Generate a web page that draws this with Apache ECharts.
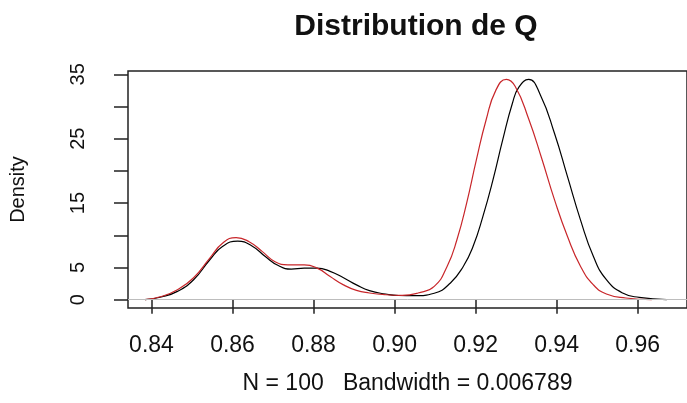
<!DOCTYPE html>
<html>
<head>
<meta charset="utf-8">
<script src="https://cdn.jsdelivr.net/npm/echarts@6/dist/echarts.min.js"></script>
<style>
  html, body { margin: 0; padding: 0; background: #ffffff; }
  #chart { width: 687px; height: 403px; }
</style>
</head>
<body>
<div id="chart"></div>
<script>
// Kernel density estimate of Q (black) and the second estimate (red)
var xBlack = [0.8384, 0.8424, 0.8464, 0.8504, 0.8544, 0.8576, 0.8613, 0.8649, 0.8681, 0.8713,
              0.8745, 0.8777, 0.8809, 0.8841, 0.8874, 0.8906, 0.8938, 0.8978, 0.9010, 0.9050,
              0.9098, 0.9138, 0.9170, 0.9194, 0.9218, 0.9243, 0.9267, 0.9291, 0.9307, 0.9331,
              0.9360, 0.9395, 0.9427, 0.9459, 0.9491, 0.9523, 0.9563, 0.9604, 0.9672];
var yBlack = [0.0, 0.42, 1.29, 3.1, 6.2, 8.3, 9.1, 8.3, 6.7, 5.3,
              4.75, 4.9, 4.9, 4.4, 3.4, 2.3, 1.4, 0.88, 0.65, 0.62,
              1.0, 2.6, 5.2, 8.3, 12.9, 18.6, 24.8, 30.5, 33.0, 34.2,
              31.8, 25.8, 19.1, 12.4, 6.7, 3.1, 1.04, 0.36, 0.02];

var xRed = [0.8384, 0.8424, 0.8464, 0.8504, 0.8544, 0.8576, 0.8609, 0.8641, 0.8673, 0.8705,
            0.8737, 0.8777, 0.8809, 0.8841, 0.8874, 0.8906, 0.8938, 0.8978, 0.9019, 0.9058,
            0.9098, 0.9130, 0.9154, 0.9178, 0.9202, 0.9226, 0.9250, 0.9276, 0.9298, 0.9331,
            0.9363, 0.9395, 0.9427, 0.9459, 0.9491, 0.9523, 0.9571, 0.9635];
var yRed = [0.0, 0.5, 1.55, 3.4, 6.45, 8.8, 9.65, 9.0, 7.5, 5.9,
            5.4, 5.4, 4.9, 3.6, 2.3, 1.44, 1.04, 0.77, 0.68, 1.04,
            2.06, 5.2, 9.3, 15.0, 21.7, 27.9, 32.5, 34.2, 33.1, 28.1,
            22.0, 15.5, 9.8, 5.2, 2.3, 0.88, 0.26, 0.02];

var xTicks = [0.84, 0.86, 0.88, 0.90, 0.92, 0.94, 0.96];
var yTicks = [0, 5, 10, 15, 20, 25, 30, 35];
var yTickLabels = [0, 5, 15, 25, 35];

var titleText = 'Distribution de Q';
var xLabel = 'N = 100   Bandwidth = 0.006789';
var yLabel = 'Density';

function pairs(xs, ys) {
  return xs.map(function (x, i) { return [x, ys[i]]; });
}

var font = 'Liberation Sans, Arial, sans-serif';
var chart = echarts.init(document.getElementById('chart'), null, { renderer: 'canvas' });

chart.setOption({
  backgroundColor: '#ffffff',
  animation: false,
  title: {
    text: titleText,
    left: 411,
    textAlign: 'center',
    top: 7,
    textStyle: { fontFamily: font, fontSize: 30, fontWeight: 'bold', color: '#111' }
  },
  grid: {
    left: 126, right: -12, top: 71, bottom: 95,
    show: true, borderColor: '#222', borderWidth: 1.5, backgroundColor: 'transparent'
  },
  xAxis: {
    type: 'value',
    min: 0.8342, max: 0.9722,
    name: xLabel,
    nameLocation: 'middle',
    nameGap: 64,
    nameTextStyle: { fontFamily: font, fontSize: 23, color: '#111' },
    axisLine: { show: false },
    axisTick: { show: true, inside: false, length: 14, customValues: xTicks,
                lineStyle: { color: '#222', width: 1.5 } },
    axisLabel: { customValues: xTicks, margin: 26, fontFamily: font, fontSize: 23, color: '#111',
                 formatter: function (v) { return v.toFixed(2); } },
    splitLine: { show: false }
  },
  yAxis: {
    type: 'value',
    min: -1.29, max: 35.51,
    name: yLabel,
    nameLocation: 'middle',
    nameRotate: 90,
    nameGap: 100,
    nameTextStyle: { fontFamily: font, fontSize: 20, color: '#111' },
    axisLine: { show: false },
    axisTick: { show: true, inside: false, length: 14, customValues: yTicks,
                lineStyle: { color: '#222', width: 1.5 } },
    axisLabel: { customValues: yTickLabels, rotate: 90, margin: 40, fontFamily: font, fontSize: 20, color: '#111' },
    splitLine: { show: false }
  },
  series: [
    {
      name: 'Q',
      type: 'line',
      data: pairs(xBlack, yBlack),
      smooth: 0.5,
      showSymbol: false,
      lineStyle: { color: '#000000', width: 1.2 },
      markLine: {
        silent: true,
        symbol: ['none', 'none'],
        label: { show: false },
        lineStyle: { color: '#bdbdbd', width: 1, type: 'solid' },
        data: [{ yAxis: 0 }]
      },
      z: 3
    },
    {
      name: 'Q2',
      type: 'line',
      data: pairs(xRed, yRed),
      smooth: 0.5,
      showSymbol: false,
      lineStyle: { color: '#c8262a', width: 1.2 },
      z: 4
    }
  ]
});
</script>
</body>
</html>
